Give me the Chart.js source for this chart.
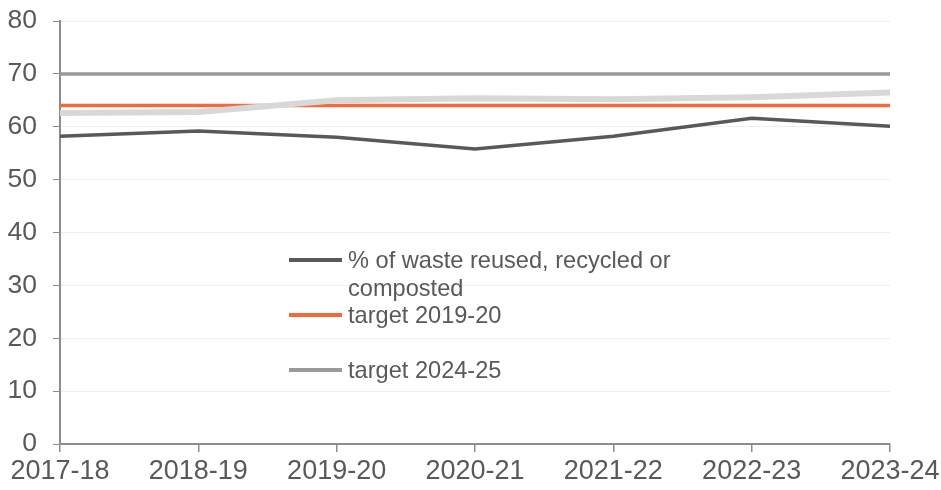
<!DOCTYPE html>
<html>
<head>
<meta charset="utf-8">
<script src="https://cdn.jsdelivr.net/npm/chart.js@4"></script>
<style>
  body { margin: 0; background: #fff; }
  #wrap { position: relative; width: 941px; height: 490px; }
  #legend { position: absolute; left: 0; top: 0; font-family: "Liberation Sans", Arial, sans-serif; font-size: 23.6px; color: #595959; }
  .item { position: absolute; left: 289px; width: 420px; line-height: 28px; }
  .item span.swatch { position: absolute; left: 0; top: 12px; width: 53px; height: 3.5px; }
  .item span.label { position: absolute; left: 59px; width: 340px; }
</style>
</head>
<body>
<div id="wrap">
  <canvas id="chart" width="941" height="490"></canvas>
  <div id="legend"></div>
</div>
<script>
const years = ["2017-18", "2018-19", "2019-20", "2020-21", "2021-22", "2022-23", "2023-24"];
const wasteRecycled = [58.2, 59.2, 58.0, 55.8, 58.2, 61.6, 60.1];
const target201920 = [64, 64, 64, 64, 64, 64, 64];
const target202425 = [70, 70, 70, 70, 70, 70, 70];
const otherSeries = [62.6, 62.8, 65.0, 65.4, 65.2, 65.6, 66.5];
const yTicks = [0, 10, 20, 30, 40, 50, 60, 70, 80];

const axisGrey = "#8c8c8c";
const textGrey = "#595959";

const datasets = [
  { label: "", data: otherSeries, borderColor: "#d9d8d8", borderWidth: 6, order: 1, inLegend: false },
  { label: "target 2019-20", data: target201920, borderColor: "#f4683a", borderWidth: 3.5, order: 2, inLegend: true },
  { label: "target 2024-25", data: target202425, borderColor: "#9a9a9a", borderWidth: 3.5, order: 3, inLegend: true },
  { label: "% of waste reused, recycled or composted", data: wasteRecycled, borderColor: "#595959", borderWidth: 3.5, order: 4, inLegend: true }
];

new Chart(document.getElementById("chart"), {
  type: 'line',
  data: {
    labels: years,
    datasets: datasets.map(d => ({
      label: d.label,
      data: d.data,
      borderColor: d.borderColor,
      backgroundColor: d.borderColor,
      borderWidth: d.borderWidth,
      order: d.order,
      pointRadius: 0,
      tension: 0,
      fill: false
    }))
  },
  options: {
    responsive: false,
    animation: false,
    layout: { autoPadding: false, padding: { left: 0, right: 51, top: 21, bottom: 0 } },
    plugins: { legend: { display: false }, tooltip: { enabled: false } },
    scales: {
      x: {
        offset: false,
        afterFit: axis => { axis.height = 46; axis.paddingLeft = 0; axis.paddingRight = 0; },
        border: { color: axisGrey, width: 2 },
        grid: { drawOnChartArea: false, color: axisGrey, tickLength: 8, lineWidth: 1.5 },
        ticks: { color: textGrey, font: { family: "Liberation Sans", size: 27 }, maxRotation: 0, padding: 3 }
      },
      y: {
        min: 0,
        max: 80,
        afterFit: axis => { axis.width = 60; axis.paddingTop = 0; axis.paddingBottom = 0; },
        afterBuildTicks: axis => { axis.ticks = yTicks.map(v => ({ value: v })); },
        border: { color: axisGrey, width: 2 },
        grid: { color: "#efefef", tickColor: axisGrey, tickLength: 7, lineWidth: 1 },
        ticks: { color: textGrey, font: { family: "Liberation Sans", size: 26.5 }, padding: 16 }
      }
    }
  }
});

// legend drawn as html in the middle of the plot
const legendEl = document.getElementById("legend");
const legendItems = [datasets[3], datasets[1], datasets[2]];
legendItems.forEach((d, i) => {
  const item = document.createElement("div");
  item.className = "item";
  item.style.top = (246 + i * 55) + "px";
  item.innerHTML = '<span class="swatch" style="background:' + d.borderColor + '"></span><span class="label">' + d.label + '</span>';
  legendEl.appendChild(item);
});
</script>
</body>
</html>
